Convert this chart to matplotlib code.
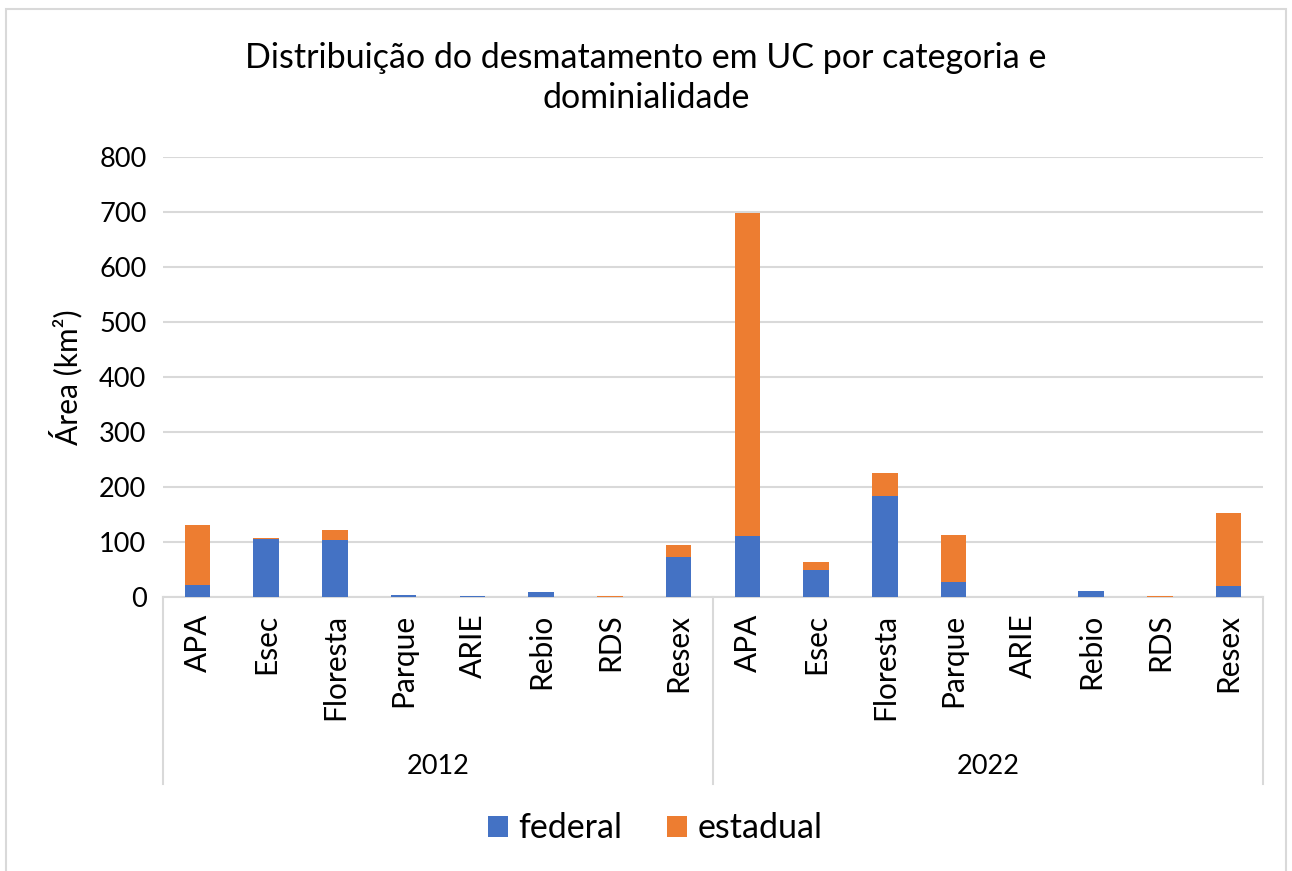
import matplotlib
matplotlib.use("Agg")
import matplotlib.pyplot as plt
from matplotlib.patches import Rectangle
import numpy as np

plt.rcParams['font.family'] = ['Lato', 'DejaVu Sans']

categorias = ["APA", "Esec", "Floresta", "Parque", "ARIE", "Rebio", "RDS", "Resex"]
anos = ["2012", "2022"]
federal_2012 = [22, 106, 104, 3, 1, 9, 0, 73]
estadual_2012 = [109, 1, 18, 1, 0, 0, 1, 22]
federal_2022 = [111, 49, 184, 27, 0, 11, 0, 20]
estadual_2022 = [587, 15, 41, 86, 0, 0, 1, 133]

federal = np.array(federal_2012 + federal_2022)
estadual = np.array(estadual_2012 + estadual_2022)
labels = categorias + categorias

azul = "#4472C4"
laranja = "#ED7D31"
grade = "#D9D9D9"

fig = plt.figure(figsize=(12.92, 8.71), dpi=100)
ax = fig.add_axes([0.1262, 0.3146, 0.8514, 0.5051])

x = np.arange(len(labels))
ax.bar(x, federal, width=0.37, color=azul, label="federal", zorder=3)
ax.bar(x, estadual, width=0.37, bottom=federal, color=laranja, label="estadual", zorder=3)

ax.set_xlim(-0.5, len(labels) - 0.5)
ax.set_ylim(0, 800)
ax.set_yticks(range(0, 801, 100))
ax.tick_params(axis="y", length=0, labelsize=19.5, pad=12)
ax.set_xticks(x)
ax.set_xticklabels(labels, rotation=90, fontsize=21.5)
ax.tick_params(axis="x", length=0, pad=12)
ax.yaxis.grid(True, color=grade, linewidth=1.5, zorder=0)
for s in ["top", "right", "left"]:
    ax.spines[s].set_visible(False)
ax.spines["bottom"].set_color(grade)
ax.spines["bottom"].set_linewidth(1.5)
ax.set_ylabel("Área (km²)", fontsize=21.5, labelpad=12)

# separadores e rótulos dos anos
n = len(categorias)
for b in [-0.5, n - 0.5, 2 * n - 0.5]:
    ax.plot([b, b], [0, -0.426], transform=ax.get_xaxis_transform(),
            color=grade, linewidth=1.5, clip_on=False)
for i, ano in enumerate(anos):
    ax.text(i * n + (n - 1) / 2, -0.386, ano, transform=ax.get_xaxis_transform(),
            ha="center", va="center", fontsize=19.5)

fig.text(0.5, 0.9105, "Distribuição do desmatamento em UC por categoria e\ndominialidade",
         ha="center", va="center", fontsize=24.5, linespacing=1.28)

leg = fig.legend(loc="center", bbox_to_anchor=(0.507, 0.049), ncol=2, frameon=False,
                 fontsize=24.5, handlelength=0.6, handleheight=0.6,
                 handletextpad=0.3, columnspacing=1.3)

fig.patches.append(Rectangle((0.0046, -0.01), 0.991, 1.0, transform=fig.transFigure,
                             fill=False, edgecolor=grade, linewidth=1.5))

fig.savefig("out.png", dpi=100)
